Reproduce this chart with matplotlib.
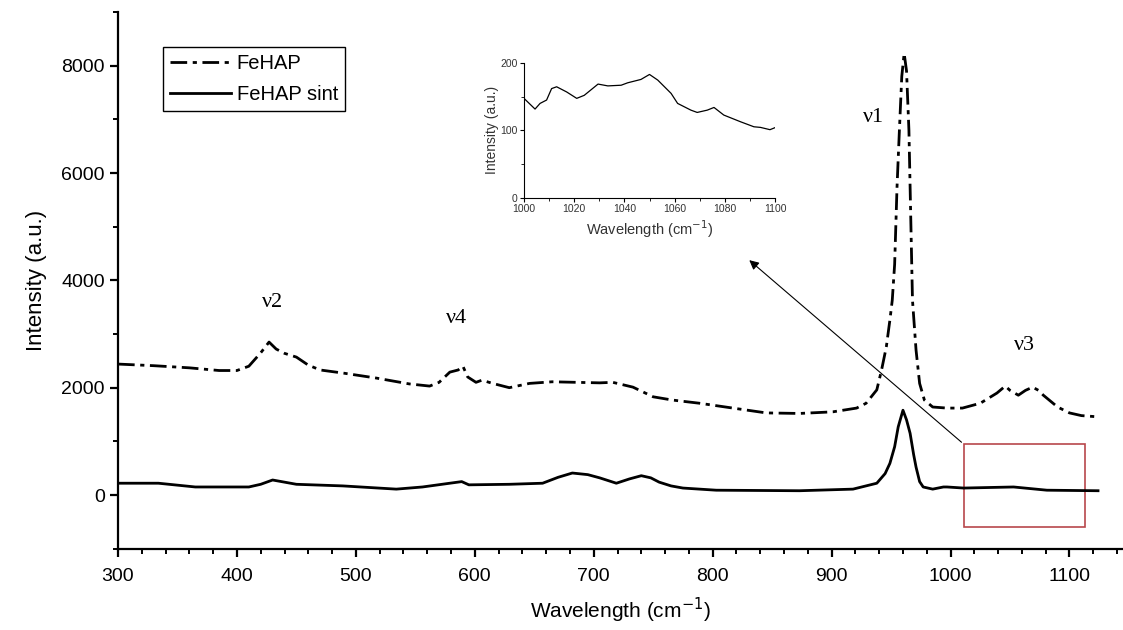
import matplotlib.pyplot as plt
from matplotlib.ticker import MultipleLocator
from matplotlib.patches import Rectangle

# FeHAP (dash-dot) spectrum
fehap_x = [300, 330, 360, 385, 400, 410, 420, 427, 433, 440, 450, 460, 470, 490, 517,
           545, 562, 570, 579, 586, 590, 594, 601, 606, 615, 629, 646, 665, 685, 705,
           716, 733, 750, 766, 789, 817, 845, 873, 901, 921, 929, 938, 942, 946, 949,
           951, 953, 955, 957, 959, 961, 963, 965, 966, 968, 971, 974, 978, 985, 997,
           1010, 1025, 1039, 1046, 1050, 1057, 1063, 1069, 1074, 1078, 1090, 1100, 1110, 1122]
fehap_y = [2440, 2410, 2370, 2320, 2320, 2400, 2650, 2850, 2720, 2640, 2570, 2420, 2330, 2270, 2180,
           2070, 2030, 2100, 2290, 2330, 2400, 2200, 2100, 2140, 2080, 2000, 2080, 2110, 2100, 2090,
           2100, 2010, 1830, 1770, 1710, 1620, 1530, 1520, 1550, 1620, 1710, 1960, 2330, 2760, 3260,
           3630, 4300, 5740, 6800, 7800, 8230, 7900, 6800, 5740, 3630, 2700, 2080, 1770, 1640, 1620,
           1620, 1710, 1900, 2030, 1950, 1860, 1950, 2010, 1950, 1860, 1640, 1530, 1480, 1460]

# FeHAP sint (solid) spectrum
sint_x = [300, 334, 365, 410, 420, 430, 440, 450, 489, 534, 556, 579, 589, 595, 629,
          657, 670, 682, 695, 705, 719, 730, 740, 748, 755, 765, 775, 803, 873, 918,
          938, 945, 949, 953, 956, 960, 963, 966, 969, 971, 974, 977, 985, 994, 997,
          1011, 1053, 1081, 1124]
sint_y = [220, 220, 150, 150, 200, 280, 240, 200, 170, 110, 150, 220, 250, 190, 200,
          220, 330, 410, 380, 320, 220, 300, 360, 320, 240, 170, 130, 90, 80, 110,
          220, 400, 590, 900, 1270, 1580, 1400, 1150, 750, 520, 250, 150, 110, 150, 150,
          130, 150, 90, 80]

# inset: zoom of FeHAP sint between 1000 and 1100
ins_x = [1000, 1004.4, 1006.4, 1009, 1011, 1013, 1017, 1021, 1024, 1029.5, 1033.4, 1038.7,
         1041.3, 1046.6, 1050, 1053.3, 1058.6, 1061.2, 1066.5, 1069, 1073, 1075.7, 1079.6,
         1086.3, 1091.6, 1094.2, 1098, 1100]
ins_y = [147.5, 131.6, 140, 145, 162, 164.7, 157, 147.5, 152, 168.7, 166, 167,
         170.6, 175.6, 183, 174.6, 154.9, 140, 130, 126.6, 130, 134, 122.7,
         112.7, 105.3, 104.4, 101, 104]

band_names = ['ν1', 'ν2', 'ν3', 'ν4']
band_x = [935, 430, 1062, 585]
band_y = [7040, 3580, 2790, 3280]

W, H = 1123, 630
fig = plt.figure(figsize=(W / 100, H / 100), dpi=100)
plt.rcParams['font.family'] = ['Liberation Sans', 'DejaVu Sans']

ax = fig.add_axes([118 / W, 1 - 548.7 / H, 1005 / W, 536.7 / H])
ax.plot(fehap_x, fehap_y, color='black', lw=2, ls=(0, (6, 2, 1.5, 2)), label='FeHAP')
ax.plot(sint_x, sint_y, color='black', lw=2, label='FeHAP sint')
ax.set_xlim(300, 1145)
ax.set_ylim(-1000, 9000)
ax.spines['top'].set_visible(False)
ax.spines['right'].set_visible(False)
ax.spines['left'].set_linewidth(1.6)
ax.spines['bottom'].set_linewidth(1.6)
ax.xaxis.set_major_locator(MultipleLocator(100))
ax.xaxis.set_minor_locator(MultipleLocator(20))
ax.yaxis.set_major_locator(MultipleLocator(2000))
ax.yaxis.set_minor_locator(MultipleLocator(1000))
ax.tick_params(which='major', direction='out', length=6, width=1.6, labelsize=14)
ax.tick_params(axis='x', which='major', pad=8)
ax.tick_params(which='minor', direction='out', length=3.5, width=1.4)
ax.set_xlabel('Wavelength (cm$^{-1}$)', fontsize=15, labelpad=8)
ax.set_ylabel('Intensity (a.u.)', fontsize=16, labelpad=10)

leg = ax.legend(loc='upper left', bbox_to_anchor=(0.045, 0.935), fontsize=14.5,
                frameon=True, fancybox=False, edgecolor='black', framealpha=1,
                handlelength=3.0, handletextpad=0.3, labelspacing=0.6, borderpad=0.35,
                borderaxespad=0)
leg.get_frame().set_linewidth(1.0)

for name, bx, by in zip(band_names, band_x, band_y):
    ax.text(bx, by, name, fontsize=16, family='Liberation Serif', ha='center', va='center')

# red box marking the zoomed region
ax.add_patch(Rectangle((1011, -600), 102, 1550, fill=False, edgecolor='#b8474b', lw=1.2))
ax.annotate('', xy=(829, 4410), xytext=(1011, 950),
            arrowprops=dict(arrowstyle='-|>', color='black', lw=0.8, mutation_scale=14))

# inset
ins = fig.add_axes([524 / W, 1 - 197.7 / H, 251 / W, 134.7 / H])
ins.plot(ins_x, ins_y, color='black', lw=0.9)
ins.set_xlim(1000, 1100)
ins.set_ylim(0, 200)
ins.spines['top'].set_visible(False)
ins.spines['right'].set_visible(False)
ins.xaxis.set_major_locator(MultipleLocator(20))
ins.xaxis.set_minor_locator(MultipleLocator(10))
ins.yaxis.set_major_locator(MultipleLocator(100))
ins.yaxis.set_minor_locator(MultipleLocator(50))
ins.tick_params(which='major', direction='out', length=3, width=0.8, labelsize=7.5,
                labelcolor='#333333', pad=1.5)
ins.tick_params(which='minor', direction='out', length=2, width=0.6)
ins.set_xlabel('Wavelength (cm$^{-1}$)', fontsize=10.5, labelpad=3, color='#333333')
ins.set_ylabel('Intensity (a.u.)', fontsize=10, labelpad=1, color='#333333')

fig.savefig('out.png', dpi=100)
